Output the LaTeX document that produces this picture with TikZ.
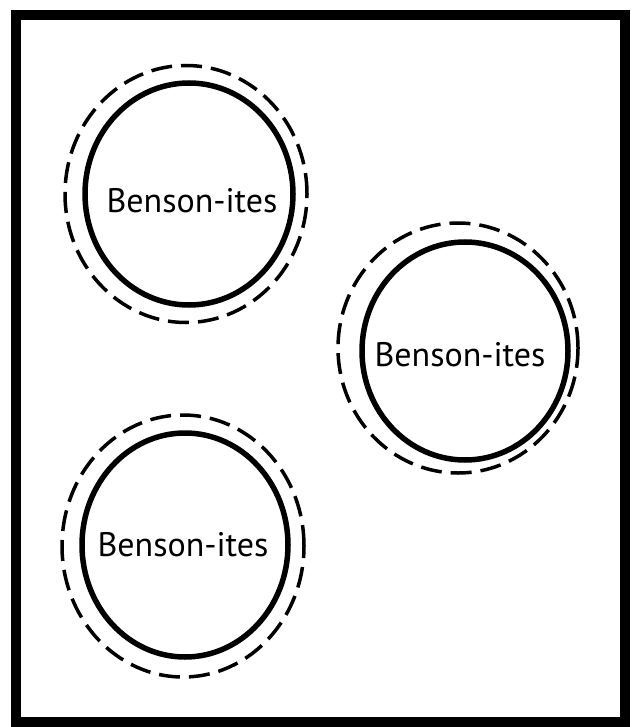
\documentclass[tikz,border=0pt]{standalone}
\usepackage{fontspec}
\setmainfont{PT Sans}
\usetikzlibrary{shapes.geometric}
\begin{document}
\begin{tikzpicture}[x=1pt,y=-1pt,
  inner/.style={ellipse,draw=black,line width=5.5pt,inner sep=0pt},
  outer/.style={ellipse,draw=black,line width=3.5pt,inner sep=0pt,dash pattern=on 21pt off 9pt},
  label/.style={font=\fontsize{34}{36}\selectfont,inner sep=0pt}]
\useasboundingbox (0,0) rectangle (632,727);
\fill[white] (0,0) rectangle (632,727);
\draw[line width=10.5pt] (16,15) rectangle (625,722);
% circle 1
\node[outer,minimum width=242pt,minimum height=257pt] (o1) at (186,194) {};
\node[inner,minimum width=208pt,minimum height=222pt] (i1) at (189,194) {};
\node[label] (t1) at (192,201) {Benson-ites};
% circle 2
\node[outer,minimum width=240pt,minimum height=250pt] (o2) at (458,348) {};
\node[inner,minimum width=206pt,minimum height=218pt] (i2) at (465,351) {};
\node[label] (t2) at (460,355) {Benson-ites};
% circle 3
\node[outer,minimum width=242pt,minimum height=262pt] (o3) at (183,546) {};
\node[inner,minimum width=206pt,minimum height=224pt] (i3) at (185,545) {};
\node[label] (t3) at (183,545) {Benson-ites};
\end{tikzpicture}
\end{document}
